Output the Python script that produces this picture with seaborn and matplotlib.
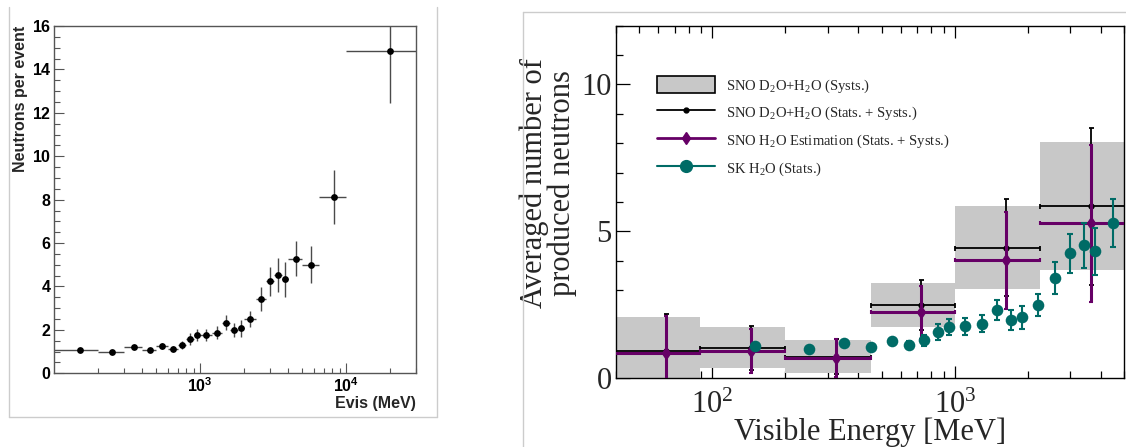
import numpy as np
import pandas as pd
import matplotlib
matplotlib.use("Agg")
import matplotlib.pyplot as plt
import seaborn as sns
from matplotlib.lines import Line2D
from matplotlib.patches import Patch
from matplotlib.ticker import (FixedLocator, LogLocator, MultipleLocator,
                               FuncFormatter, NullFormatter)

# ---------------- data ----------------
# SK H2O: visible energy bins [MeV] and neutrons per event
sk_bin_lo = [100, 200, 300, 400, 500, 600, 700, 800, 900, 1000, 1200, 1400,
             1600, 1800, 2000, 2400, 2800, 3200, 3600, 4000, 5000, 6500, 10000]
sk_bin_hi = [200, 300, 400, 500, 600, 700, 800, 900, 1000, 1200, 1400, 1600,
             1800, 2000, 2400, 2800, 3200, 3600, 4000, 5000, 6500, 10000, 30000]
sk_neutrons = [1.09, 1.00, 1.20, 1.06, 1.26, 1.14, 1.29, 1.58, 1.75, 1.77, 1.86,
               2.33, 1.98, 2.07, 2.49, 3.41, 4.25, 4.53, 4.33, 5.28, 5.01, 8.14, 14.84]
sk_err = [0.08, 0.08, 0.10, 0.10, 0.12, 0.12, 0.18, 0.27, 0.28, 0.28, 0.30,
          0.35, 0.33, 0.38, 0.37, 0.55, 0.67, 0.77, 0.80, 0.82, 0.86, 1.24, 2.40]

# SNO bins
sno_bin_lo = [39.5, 88.9, 200, 450, 1000, 2250]
sno_bin_hi = [88.9, 200, 450, 1000, 2250, 5062]
sno_syst_lo = [0.0, 0.36, 0.19, 1.73, 3.03, 3.69]
sno_syst_hi = [2.10, 1.73, 1.31, 3.24, 5.85, 8.03]
sno_d2o_val = [0.93, 1.03, 0.74, 2.50, 4.45, 5.85]
sno_d2o_err = [1.26, 0.76, 0.60, 0.85, 1.65, 2.67]
sno_h2o_val = [0.85, 0.94, 0.68, 2.24, 4.01, 5.28]
sno_h2o_err = [1.27, 0.75, 0.65, 0.89, 1.65, 2.67]

legend_labels = ["SNO D$_2$O+H$_2$O (Systs.)",
                 "SNO D$_2$O+H$_2$O (Stats. + Systs.)",
                 "SNO H$_2$O Estimation (Stats. + Systs.)",
                 "SK H$_2$O (Stats.)"]

# ---------------- style ----------------
sns.set_theme(style="ticks")
plt.rcParams.update({
    "font.family": ["Liberation Serif", "DejaVu Serif"],
    "mathtext.fontset": "custom",
    "mathtext.rm": "Liberation Serif",
    "mathtext.it": "Liberation Serif:italic",
    "mathtext.bf": "Liberation Sans:bold",
    "figure.facecolor": "white",
    "axes.facecolor": "white",
})

W, H = 1126, 447
fig = plt.figure(figsize=(W / 100, H / 100), dpi=100)

def fx(px):
    return px / W

def fy(py):
    return 1 - py / H

# panel frames (light grey)
grey_frame = "#cccccc"
fig.add_artist(Line2D([fx(9.3), fx(9.3)], [fy(7.3), fy(417.3)], transform=fig.transFigure, color=grey_frame, lw=1))
fig.add_artist(Line2D([fx(436.7), fx(436.7)], [fy(7.3), fy(417.3)], transform=fig.transFigure, color=grey_frame, lw=1))
fig.add_artist(Line2D([fx(9.3), fx(436.7)], [fy(417.3), fy(417.3)], transform=fig.transFigure, color=grey_frame, lw=1))
fig.add_artist(Line2D([fx(522.7), fx(1126)], [fy(12.3), fy(12.3)], transform=fig.transFigure, color=grey_frame, lw=1))
fig.add_artist(Line2D([fx(522.7), fx(522.7)], [fy(12.3), fy(447)], transform=fig.transFigure, color=grey_frame, lw=1))

# ---------------- left panel ----------------
sk = pd.DataFrame({"lo": sk_bin_lo, "hi": sk_bin_hi, "n": sk_neutrons, "err": sk_err})
sk["center"] = (sk["lo"] + sk["hi"]) / 2

axL = fig.add_axes([fx(54.3), fy(373.3), fx(416) - fx(54.3), fy(26) - fy(373.3)])
axL.set_xscale("log")
axL.set_xlim(100, 30000)
axL.set_ylim(0, 16)
axL.errorbar(sk["center"], sk["n"], yerr=sk["err"],
             xerr=[sk["center"] - sk["lo"], sk["hi"] - sk["center"]],
             fmt="none", ecolor="#4a4a4a", elinewidth=1.0, capsize=0, zorder=2)
sns.scatterplot(data=sk, x="center", y="n", ax=axL, color="black", s=24,
                linewidth=0, zorder=3)
axL.set_xlabel("")
axL.set_ylabel("")

axL.xaxis.set_major_locator(FixedLocator([1000, 10000]))
axL.xaxis.set_minor_locator(LogLocator(base=10, subs=np.arange(2, 10)))
axL.xaxis.set_major_formatter(FuncFormatter(lambda v, p: r"$\mathbf{10^{%d}}$" % round(np.log10(v))))
axL.xaxis.set_minor_formatter(NullFormatter())
axL.yaxis.set_major_locator(MultipleLocator(2))
axL.yaxis.set_minor_locator(MultipleLocator(0.5))
axL.yaxis.set_major_formatter(FuncFormatter(lambda v, p: r"$\mathbf{%d}$" % round(v)))
axL.tick_params(which="both", direction="in", top=False, right=False,
                color="#555555", labelcolor="black", width=0.8)
axL.tick_params(axis="y", which="major", length=7.5, pad=2, labelsize=11.5)
axL.tick_params(axis="y", which="minor", length=4)
axL.tick_params(axis="x", which="major", length=7.5, pad=3, labelsize=11.5)
axL.tick_params(axis="x", which="minor", length=3.8)
for s in axL.spines.values():
    s.set_color("#555555")
    s.set_linewidth(1.0)

axL.text(-0.093, 1.0, "Neutrons per event", rotation=90, ha="center", va="top",
         transform=axL.transAxes, fontfamily="Liberation Sans", fontweight="bold",
         fontsize=11.5)
axL.text(1.0, -0.088, "Evis (MeV)", ha="right", va="center",
         transform=axL.transAxes, fontfamily="Liberation Sans", fontweight="bold",
         fontsize=11.5)

# ---------------- right panel ----------------
grey_box = "#c8c8c8"
purple = "#660066"
teal = "#006b66"

sno = pd.DataFrame({"lo": sno_bin_lo, "hi": sno_bin_hi,
                    "slo": sno_syst_lo, "shi": sno_syst_hi,
                    "d2o": sno_d2o_val, "d2o_err": sno_d2o_err,
                    "h2o": sno_h2o_val, "h2o_err": sno_h2o_err})
sno["center"] = (sno["lo"] + sno["hi"]) / 2

axR = fig.add_axes([fx(615.7), fy(378.3), fx(1124.3) - fx(615.7), fy(25.7) - fy(378.3)])
axR.set_xscale("log")
axR.set_xlim(40, 5000)
axR.set_ylim(0, 12)

axR.bar(sno["lo"], sno["shi"] - sno["slo"], bottom=sno["slo"], width=sno["hi"] - sno["lo"],
        align="edge", color=grey_box, edgecolor="none", zorder=1)
xerr_sno = [sno["center"] - sno["lo"], sno["hi"] - sno["center"]]
axR.errorbar(sno["center"], sno["d2o"], yerr=sno["d2o_err"], xerr=xerr_sno,
             fmt="o", ms=3.5, color="black", elinewidth=1.3, capsize=1.8,
             capthick=1.3, zorder=2)
axR.errorbar(sno["center"], sno["h2o"], yerr=sno["h2o_err"], xerr=xerr_sno,
             fmt="d", ms=6.5, color=purple, elinewidth=2.2, capsize=1.5,
             capthick=1.5, zorder=3)

skR = sk[sk["center"] < 5000]
axR.errorbar(skR["center"], skR["n"], yerr=skR["err"], fmt="none", ecolor=teal,
             elinewidth=1.5, capsize=2.0, capthick=1.5, zorder=4)
sns.scatterplot(data=skR, x="center", y="n", ax=axR, color=teal, s=70,
                linewidth=0, zorder=5)
axR.set_xlabel("")
axR.set_ylabel("")

axR.xaxis.set_major_locator(FixedLocator([100, 1000]))
axR.xaxis.set_minor_locator(LogLocator(base=10, subs=np.arange(2, 10)))
axR.xaxis.set_major_formatter(FuncFormatter(lambda v, p: r"$10^{%d}$" % round(np.log10(v))))
axR.xaxis.set_minor_formatter(NullFormatter())
axR.yaxis.set_major_locator(MultipleLocator(5))
axR.yaxis.set_minor_locator(MultipleLocator(1))
axR.tick_params(which="both", direction="in", top=True, right=False,
                color="black", width=0.9)
axR.tick_params(axis="y", which="major", length=10.3, pad=3, labelsize=22)
axR.tick_params(axis="y", which="minor", length=4.8)
axR.tick_params(axis="x", which="major", length=8.4, pad=9, labelsize=22)
axR.tick_params(axis="x", which="minor", length=4.8)
for s in axR.spines.values():
    s.set_color("black")
    s.set_linewidth(1.0)

axR.text(-0.133, 0.555, "Averaged number of\nproduced neutrons", rotation=90,
         ha="center", va="center", multialignment="center", linespacing=0.95,
         transform=axR.transAxes, fontsize=22)
axR.text(0.5, -0.112, "Visible Energy [MeV]", ha="center", va="top",
         transform=axR.transAxes, fontsize=22)

handles = [Patch(facecolor=grey_box, edgecolor="black", linewidth=1.2),
           Line2D([], [], color="black", marker="o", ms=3.5, lw=1.3),
           Line2D([], [], color=purple, marker="d", ms=6.5, lw=2.0),
           Line2D([], [], color=teal, marker="o", ms=8.5, lw=1.5)]
axR.legend(handles, legend_labels, loc="upper left",
           bbox_to_anchor=(fx(657), fy(76)), bbox_transform=fig.transFigure,
           frameon=False, borderpad=0, borderaxespad=0, handlelength=4.0,
           handleheight=1.45, handletextpad=0.75, labelspacing=0.62,
           fontsize=10.5)

fig.savefig("out.png", dpi=100)
